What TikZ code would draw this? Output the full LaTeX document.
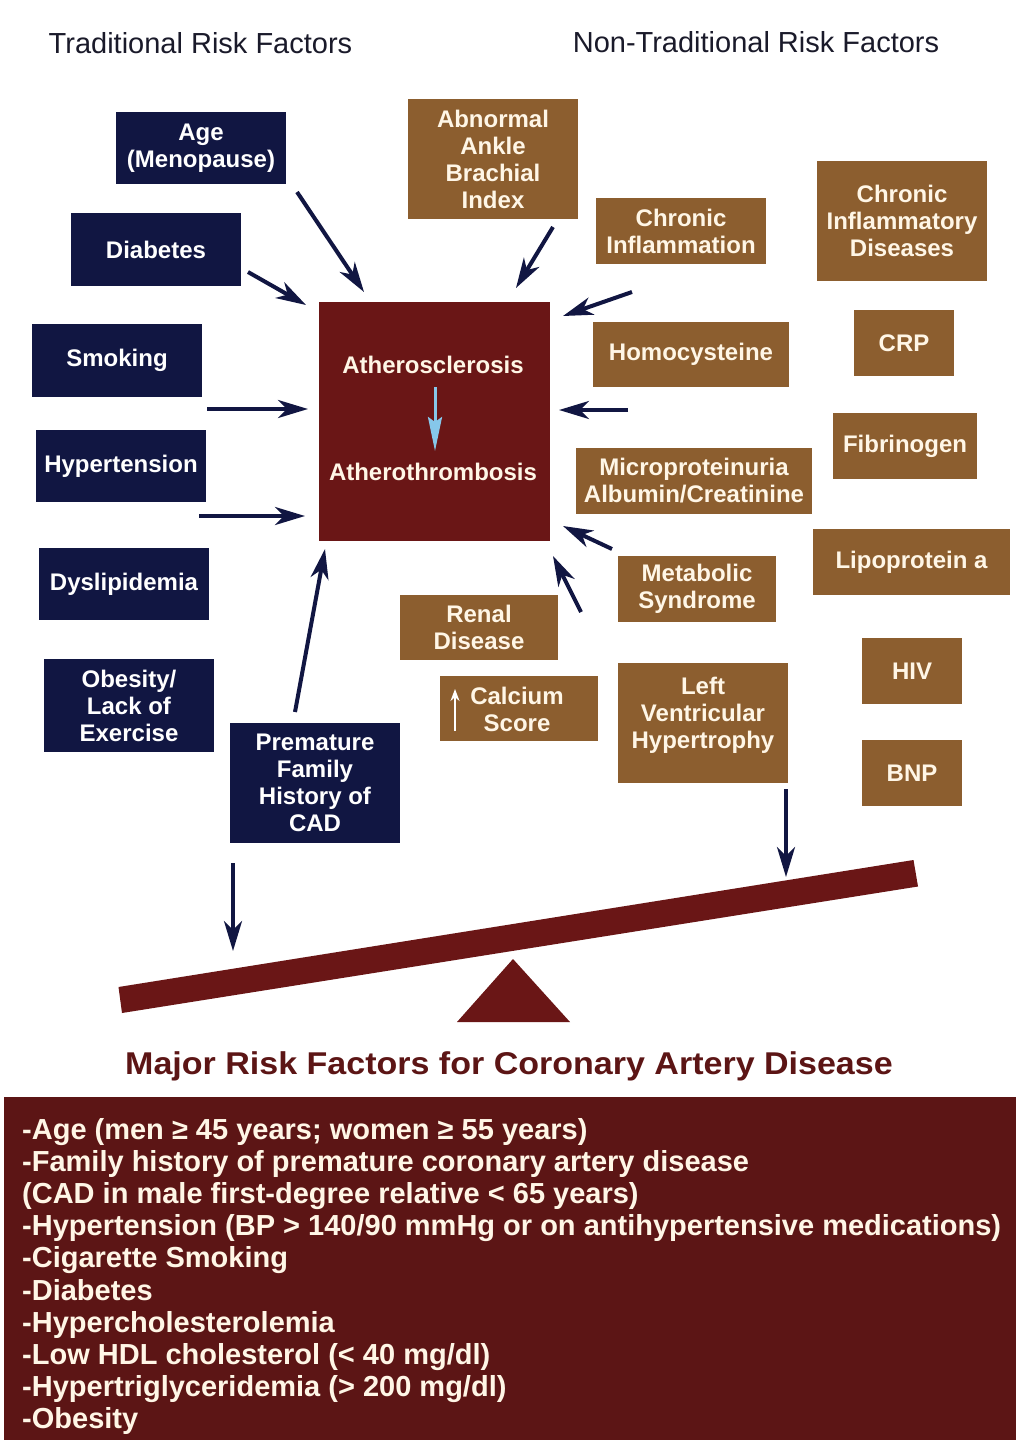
\documentclass[tikz,border=0pt]{standalone}
\usepackage{fontspec}
\setmainfont{Liberation Sans}
\usetikzlibrary{arrows.meta}
\definecolor{navy}{HTML}{111642}
\definecolor{tanbox}{HTML}{8C5E2F}
\definecolor{maroonbox}{HTML}{6A1616}
\definecolor{darkmaroon}{HTML}{5C1515}
\definecolor{cream}{HTML}{FFF6E6}
\definecolor{skyarrow}{HTML}{86C7EA}
\definecolor{headtext}{HTML}{1A1A2A}
\begin{document}
\begin{tikzpicture}[x=1pt,y=-1pt,
  boxfont/.style={font=\bfseries\fontsize{24}{27}\selectfont},
  trad/.style={boxfont, fill=navy, text=white, align=center, inner sep=0pt},
  nontrad/.style={boxfont, fill=tanbox, text=cream, align=center, inner sep=0pt},
  dims/.style 2 args={minimum width=#1, minimum height=#2},
  headfont/.style={font=\fontsize{29}{32}\selectfont, text=headtext, inner sep=0pt},
  arr/.style={draw=navy, line width=4pt, -{Stealth[length=30pt,width=18pt,inset=9pt]}},
  listline/.style={anchor=base west, inner sep=0pt, text=cream, font=\bfseries\fontsize{29}{32}\selectfont}
]
\useasboundingbox (0,0) rectangle (1016,1440);
\fill[white] (0,0) rectangle (1016,1440);

% headers
\node[headfont] (hTrad) at (200.5,43) {Traditional Risk Factors};
\node[headfont] (hNon) at (756,42) {Non-Traditional Risk Factors};

% traditional boxes
\node[trad, dims={170pt}{72pt}] (age) at (201,148) {Age\\(Menopause)};
\node[trad, dims={170pt}{73pt}] (diab) at (156,249.5) {Diabetes};
\node[trad, dims={170pt}{73pt}] (smok) at (117,360.5) {Smoking};
\node[trad, dims={170pt}{72pt}] (hyp) at (121,466) {Hypertension};
\node[trad, dims={170pt}{72pt}] (dysl) at (124,584) {Dyslipidemia};
\node[trad, dims={170pt}{93pt}] (obes) at (129,705.5) {Obesity/\\Lack of\\Exercise};
\node[trad, dims={170pt}{120pt}] (prem) at (315,783) {Premature\\Family\\History of\\CAD};

% central box
\node[fill=maroonbox, dims={231pt}{239pt}, inner sep=0pt] (core) at (434.5,421.5) {};
\node[boxfont, text=cream, inner sep=0pt] (athA) at (433,365) {Atherosclerosis};
\node[boxfont, text=cream, inner sep=0pt] (athB) at (433,472) {Atherothrombosis};
\coordinate (skyS) at (435,387);
\coordinate (skyE) at (435,451);
\draw[skyarrow, line width=3pt, -{Stealth[length=34pt,width=14pt,inset=5pt]}] (skyS) -- (skyE);

% non-traditional boxes
\node[nontrad, dims={170pt}{120pt}] (abi) at (493,159) {Abnormal\\Ankle\\Brachial\\Index};
\node[nontrad, dims={170pt}{66pt}] (chinf) at (681,231) {Chronic\\Inflammation};
\node[nontrad, dims={170pt}{120pt}] (chid) at (902,221) {Chronic\\Inflammatory\\Diseases};
\node[nontrad, dims={196pt}{65pt}] (homo) at (691,354.5) {Homocysteine};
\node[nontrad, dims={100pt}{66pt}] (crp) at (904,343) {CRP};
\node[nontrad, dims={144pt}{66pt}] (fib) at (905,446) {Fibrinogen};
\node[nontrad, dims={236pt}{66pt}] (micro) at (694,481) {Microproteinuria\\Albumin/Creatinine};
\node[nontrad, dims={197pt}{66pt}] (lipo) at (911.5,562) {Lipoprotein a};
\node[nontrad, dims={158pt}{66pt}] (metab) at (697,589) {Metabolic\\Syndrome};
\node[nontrad, dims={158pt}{65pt}] (renal) at (479,627.5) {Renal\\Disease};
\node[nontrad, dims={158pt}{65pt}] (calc) at (519,708.5) {};
\node[boxfont, text=cream, align=center, inner sep=0pt] (calctext) at (517,709.5) {Calcium\\Score};
\coordinate (calcS) at (455,731);
\coordinate (calcE) at (455,689);
\draw[white, line width=1.8pt, -{Stealth[length=12pt,width=9pt]}] (calcS) -- (calcE);
\node[nontrad, dims={170pt}{120pt}] (lvh) at (703,723) {};
\node[boxfont, text=cream, align=center, inner sep=0pt] (lvhtext) at (703,715) {Left\\Ventricular\\Hypertrophy};
\node[nontrad, dims={100pt}{66pt}] (hiv) at (912,671) {HIV};
\node[nontrad, dims={100pt}{66pt}] (bnp) at (912,773) {BNP};

% arrow end points
\coordinate (a1s) at (297,192);  \coordinate (a1e) at (364,292);
\coordinate (a2s) at (248,272);  \coordinate (a2e) at (306,305);
\coordinate (a3s) at (207,409);  \coordinate (a3e) at (308,409);
\coordinate (a4s) at (199,516);  \coordinate (a4e) at (305,516);
\coordinate (a5s) at (295,712);  \coordinate (a5e) at (325,549);
\coordinate (a6s) at (553,227);  \coordinate (a6e) at (516,288);
\coordinate (a7s) at (632,292);  \coordinate (a7e) at (563,316);
\coordinate (a8s) at (628,410);  \coordinate (a8e) at (559,410);
\coordinate (a9s) at (612,549);  \coordinate (a9e) at (563,526);
\coordinate (a10s) at (581,612); \coordinate (a10e) at (553,556);
\coordinate (a11s) at (786,789); \coordinate (a11e) at (786,877);
\coordinate (a12s) at (233,863); \coordinate (a12e) at (233,951);
\foreach \i in {1,...,12} {\draw[arr] (a\i s) -- (a\i e);}

% beam and fulcrum
\fill[maroonbox] (118.5,987) -- (913.5,860) -- (918,886.5) -- (122,1013) -- cycle;
\fill[maroonbox] (513,959) -- (570,1022) -- (457,1022) -- cycle;

% title
\node[font=\bfseries\fontsize{31.5}{34}\selectfont, text=darkmaroon, inner sep=0pt] (title) at (509,1066) {\scalebox{1.08}[1]{Major Risk Factors for Coronary Artery Disease}};

% bottom box
\fill[darkmaroon] (4,1097) rectangle (1016,1440);
\node[listline] (l1) at (22,1139.5) {-Age (men ≥ 45 years; women ≥ 55 years)};
\node[listline] (l2) at (22,1171.6) {-Family history of premature coronary artery disease};
\node[listline] (l3) at (22,1203.7) {(CAD in male first-degree relative < 65 years)};
\node[listline] (l4) at (22,1235.8) {-Hypertension (BP > 140/90 mmHg or on antihypertensive medications)};
\node[listline] (l5) at (22,1267.9) {-Cigarette Smoking};
\node[listline] (l6) at (22,1300.0) {-Diabetes};
\node[listline] (l7) at (22,1332.1) {-Hypercholesterolemia};
\node[listline] (l8) at (22,1364.2) {-Low HDL cholesterol (< 40 mg/dl)};
\node[listline] (l9) at (22,1396.3) {-Hypertriglyceridemia (> 200 mg/dl)};
\node[listline] (l10) at (22,1428.4) {-Obesity};
\end{tikzpicture}
\end{document}
